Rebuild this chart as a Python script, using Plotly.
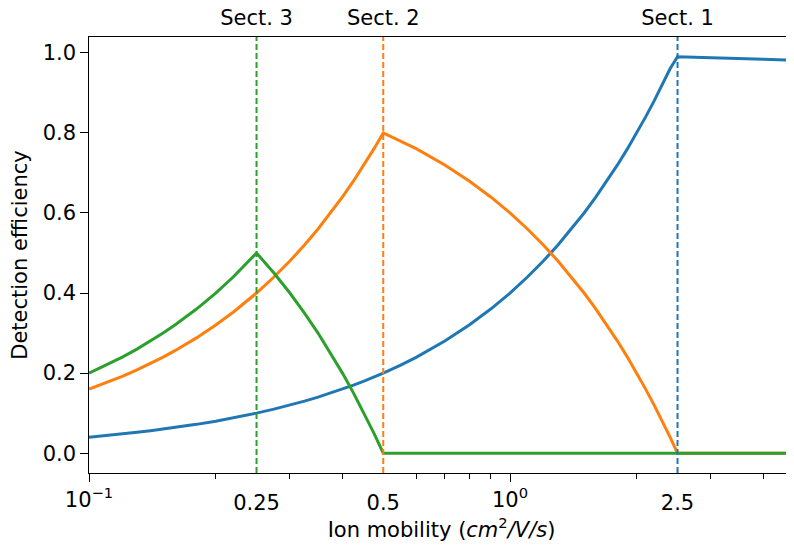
import plotly.graph_objects as go

# Ion mobility sample points (cm^2/V/s)
mobility = [0.1, 0.11, 0.12, 0.13, 0.14, 0.15, 0.16, 0.18, 0.2, 0.22,
            0.25, 0.275, 0.3, 0.325, 0.35, 0.375, 0.4, 0.425, 0.45, 0.475,
            0.5, 0.55, 0.6, 0.7, 0.8, 0.9, 1.0, 1.1, 1.2, 1.3,
            1.4, 1.5, 1.6, 1.7, 1.8, 1.9, 2.0, 2.1, 2.2, 2.3,
            2.4, 2.5, 3.0, 3.5, 4.0, 4.73]

# Detection efficiency
sect1_eff = [0.04, 0.044, 0.048, 0.052, 0.056, 0.06, 0.064, 0.072, 0.08, 0.088,
             0.10, 0.11, 0.12, 0.13, 0.14, 0.15, 0.16, 0.17, 0.18, 0.19,
             0.20, 0.22, 0.24, 0.28, 0.32, 0.36, 0.40, 0.44, 0.48, 0.52,
             0.56, 0.60, 0.64, 0.68, 0.72, 0.76, 0.80, 0.84, 0.88, 0.92,
             0.96, 0.99, 0.988, 0.986, 0.984, 0.981]
sect2_eff = [0.16, 0.176, 0.192, 0.208, 0.224, 0.24, 0.256, 0.288, 0.32, 0.352,
             0.40, 0.44, 0.48, 0.52, 0.56, 0.60, 0.64, 0.68, 0.72, 0.76,
             0.80, 0.78, 0.76, 0.72, 0.68, 0.64, 0.60, 0.56, 0.52, 0.48,
             0.44, 0.40, 0.36, 0.32, 0.28, 0.24, 0.20, 0.16, 0.12, 0.08,
             0.04, 0.0, 0.0, 0.0, 0.0, 0.0]
sect3_eff = [0.20, 0.22, 0.24, 0.26, 0.28, 0.30, 0.32, 0.36, 0.40, 0.44,
             0.50, 0.45, 0.40, 0.35, 0.30, 0.25, 0.20, 0.15, 0.10, 0.05,
             0.0, 0.0, 0.0, 0.0, 0.0, 0.0, 0.0, 0.0, 0.0, 0.0,
             0.0, 0.0, 0.0, 0.0, 0.0, 0.0, 0.0, 0.0, 0.0, 0.0,
             0.0, 0.0, 0.0, 0.0, 0.0, 0.0]

sect_names = ["Sect. 1", "Sect. 2", "Sect. 3"]
sect_pos = [2.5, 0.5, 0.25]
colors = ["#1f77b4", "#ff7f0e", "#2ca02c"]

bottom_labels_vals = [0.25, 0.5, 2.5]
bottom_labels_text = ["0.25", "0.5", "2.5"]
major_vals = [0.1, 1.0]
major_text = ["10<sup>\u22121</sup>", "10<sup>0</sup>"]
minor_vals = [0.2, 0.3, 0.4, 0.6, 0.7, 0.8, 0.9, 2, 3, 4]
y_ticks = [0.0, 0.2, 0.4, 0.6, 0.8, 1.0]
y_ticktext = ["0.0", "0.2", "0.4", "0.6", "0.8", "1.0"]

x_range = [-1, 0.6746]
y_range = [-0.0495, 1.0395]

FONT = "DejaVu Sans"
FS = 21

fig = go.Figure()

for eff, c in zip([sect1_eff, sect2_eff, sect3_eff], colors):
    fig.add_trace(go.Scatter(x=mobility, y=eff, mode="lines",
                             line=dict(color=c, width=3), showlegend=False,
                             hoverinfo="skip"))

for pos, c in zip(sect_pos, colors):
    fig.add_trace(go.Scatter(x=[pos, pos], y=y_range, mode="lines", xaxis="x2",
                             line=dict(color=c, width=2, dash="6px,3px"),
                             showlegend=False, hoverinfo="skip"))

fig.add_trace(go.Scatter(x=bottom_labels_vals, y=[0, 0, 0], xaxis="x3", mode="markers",
                         marker=dict(opacity=0), showlegend=False, hoverinfo="skip"))

axis_common = dict(type="log", range=x_range, showgrid=False, zeroline=False,
                   automargin=False)

# the page body has an 8px margin, so the figure is 8px smaller and offset
fig.update_layout(
    width=786, height=537,
    margin=dict(l=81, r=0, t=29, b=72),
    paper_bgcolor="white", plot_bgcolor="white",
    font=dict(family=FONT, size=FS, color="black"),
    xaxis=dict(**axis_common, tickmode="array", tickvals=major_vals, ticktext=major_text,
               ticks="outside", ticklen=7.5, tickwidth=1.3, tickcolor="black",
               showline=True, linecolor="black", linewidth=1.4,
               minor=dict(tickmode="array", tickvals=minor_vals, ticks="outside",
                          ticklen=4.5, tickwidth=1.1, tickcolor="black"),
               title=dict(text="Ion mobility (<i>cm</i><sup>2</sup><i>/V/s</i>)",
                          font=dict(size=FS), standoff=11),
               tickfont=dict(size=FS)),
    xaxis3=dict(**axis_common, overlaying="x", side="bottom", anchor="y",
                tickmode="array", tickvals=bottom_labels_vals, ticktext=bottom_labels_text,
                ticks="outside", ticklen=11, tickcolor="rgba(0,0,0,0)",
                showline=False, tickfont=dict(size=FS)),
    xaxis2=dict(**axis_common, overlaying="x", side="top", anchor="y",
                tickmode="array", tickvals=sect_pos, ticktext=sect_names,
                ticks="outside", ticklen=2, tickcolor="rgba(0,0,0,0)",
                showline=True, linecolor="black", linewidth=1.4,
                tickfont=dict(size=FS)),
    yaxis=dict(range=y_range, showgrid=False, zeroline=False, automargin=False,
               tickmode="array", tickvals=y_ticks, ticktext=y_ticktext,
               ticks="outside", ticklen=7.5, tickwidth=1.3, tickcolor="black",
               showline=True, linecolor="black", linewidth=1.4,
               title=dict(text="Detection efficiency", font=dict(size=FS), standoff=11),
               tickfont=dict(size=FS)),
)

fig.write_html("out.html")
